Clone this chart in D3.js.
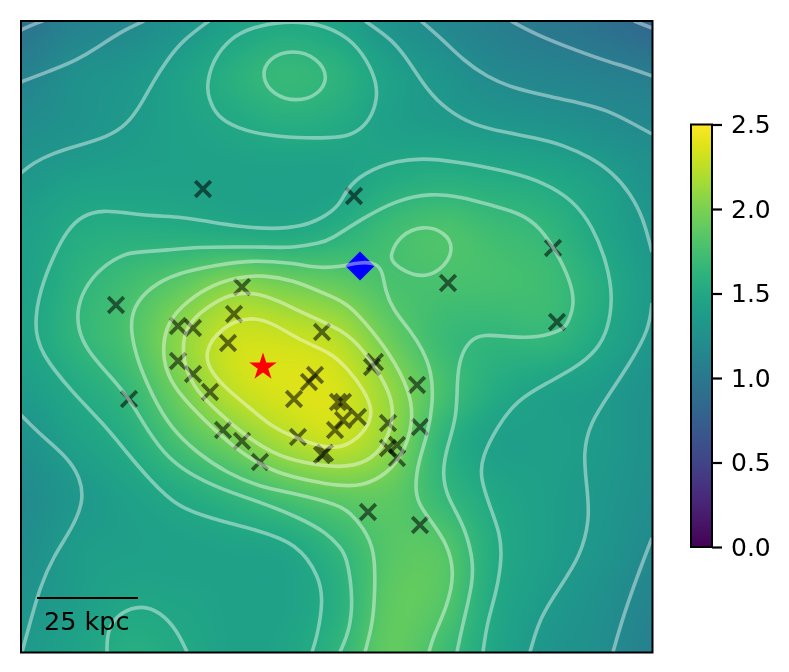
<!DOCTYPE html>
<html>
<head>
<meta charset="utf-8">
<script src="https://d3js.org/d3.v7.min.js"></script>
<style>
  html, body { margin: 0; background: #fff; }
  #wrap { position: relative; width: 789px; height: 672px; overflow: hidden; }
  #map, #chart { position: absolute; left: 0; top: 0; }
  text { font-family: "DejaVu Sans", sans-serif; fill: #000; }
</style>
</head>
<body>
<div id="wrap">
  <canvas id="map" width="789" height="672"></canvas>
  <svg id="chart" width="789" height="672"></svg>
</div>
<script>
// map coordinates run 21..652.5 on both axes, y downwards
const gridX = [21, 74, 126, 179, 232, 284, 337, 390, 442, 495, 548, 600, 653];
const gridY = [21, 74, 126, 179, 232, 284, 337, 390, 442, 495, 548, 600, 653];
const density = [
  [0.95, 1.10, 1.17, 1.28, 1.42, 1.50, 1.44, 1.28, 1.17, 1.07, 0.99, 0.93, 0.82],
  [1.10, 1.25, 1.31, 1.42, 1.58, 1.68, 1.61, 1.42, 1.30, 1.18, 1.13, 1.09, 1.05],
  [1.22, 1.28, 1.35, 1.42, 1.49, 1.55, 1.52, 1.41, 1.37, 1.33, 1.29, 1.23, 1.18],
  [1.33, 1.40, 1.42, 1.42, 1.42, 1.41, 1.42, 1.53, 1.57, 1.54, 1.50, 1.41, 1.27],
  [1.40, 1.53, 1.56, 1.55, 1.52, 1.50, 1.58, 1.73, 1.80, 1.72, 1.65, 1.47, 1.32],
  [1.42, 1.60, 1.73, 1.87, 2.04, 1.97, 1.90, 1.78, 1.77, 1.76, 1.72, 1.56, 1.35],
  [1.44, 1.63, 1.78, 2.07, 2.30, 2.30, 2.22, 1.92, 1.70, 1.64, 1.66, 1.50, 1.33],
  [1.37, 1.51, 1.66, 1.96, 2.26, 2.36, 2.35, 2.09, 1.77, 1.54, 1.42, 1.37, 1.26],
  [1.27, 1.42, 1.54, 1.77, 1.97, 2.18, 2.28, 2.07, 1.63, 1.41, 1.40, 1.36, 1.25],
  [1.20, 1.32, 1.42, 1.52, 1.64, 1.78, 1.88, 1.88, 1.67, 1.49, 1.40, 1.33, 1.23],
  [1.23, 1.37, 1.40, 1.42, 1.44, 1.47, 1.64, 1.84, 1.84, 1.53, 1.40, 1.31, 1.19],
  [1.30, 1.38, 1.47, 1.46, 1.43, 1.43, 1.57, 1.88, 1.84, 1.50, 1.36, 1.25, 1.13],
  [1.35, 1.44, 1.56, 1.51, 1.43, 1.46, 1.63, 1.90, 1.73, 1.47, 1.30, 1.23, 1.08]
];

// contour traces
const cornerTopLeft = [[21,30],[32,25],[43,21]];
const lineTopLeft = [[21,82],[50,71],[77,60],[97,48],[120,32],[144,21]];
const lineUpperLeft = [[21,173],[33,163],[53,153],[80,145],[107,137],[127,125],[142,103],[153,82],[167,60],[183,40],[209,21]];
const lineTop1 = [[365,21],[393,40],[410,63],[427,90],[447,110],[473,125],[503,132],[537,138],[563,145],[590,157],[613,173],[630,193],[643,217],[652,252]];
const lineTop2 = [[421,21],[443,40],[463,60],[487,77],[513,88],[547,96],[580,103],[607,110],[630,122],[652,134]];
const lineTop3 = [[511,21],[537,35],[570,48],[603,60],[630,68],[652,76]];
const cornerTopRight = [[634,21],[652,28]];
const lineOuter = [[312,652],[317,637],[323,603],[320,577],[297,543],[257,530],[210,518],[177,507],[150,480],[127,453],[103,423],[73,393],[40,353],[34,325],[40,290],[53,257],[67,230],[83,215],[103,210],[127,213],[153,216],[183,217],[210,222],[243,227],[273,229],[300,227],[323,218],[340,205],[346,190],[363,173],[397,160],[430,158],[470,164],[510,172],[543,182],[573,200],[593,227],[607,263],[613,297],[608,330],[597,350],[577,367],[547,383],[517,400],[497,427],[482,457],[480,477],[490,507],[500,533],[502,557],[497,590],[487,623],[483,652]];
const lineMiddle = [[340,652],[350,630],[353,597],[347,557],[340,547],[327,533],[300,518],[263,503],[223,490],[187,473],[163,453],[143,423],[127,395],[107,373],[87,350],[78,330],[77,307],[87,283],[107,263],[127,253],[140,252],[167,250],[200,247],[233,247],[267,247],[293,248],[320,243],[330,240],[363,218],[397,200],[430,193],[463,197],[490,205],[520,213],[540,227],[557,253],[570,280],[575,303],[568,323],[563,330],[537,338],[510,337],[483,334],[470,340],[460,357],[457,380],[457,417],[447,447],[442,473],[447,497],[463,523],[473,557],[473,583],[463,623],[457,652]];
const lineInner = [[365,652],[373,623],[375,590],[375,550],[363,527],[350,513],[340,505],[293,493],[260,487],[227,473],[197,453],[170,427],[153,397],[138,363],[130,330],[133,307],[150,287],[177,273],[217,265],[250,260],[293,263],[317,268],[340,267],[360,262],[377,263],[383,273],[385,290],[393,310],[410,330],[423,350],[432,373],[433,403],[428,433],[418,463],[415,487],[418,503],[430,520],[447,543],[455,573],[447,607],[433,637],[429,652]];
const lineRight = [[652,303],[649,330],[630,363],[610,393],[590,423],[583,453],[587,487],[590,520],[580,557],[560,587],[540,617],[530,652]];
const cornerBottomRight = [[652,538],[637,577],[623,617],[613,652]];
const lineBottomLeft = [[21,415],[43,437],[67,457],[80,477],[84,500],[73,527],[53,557],[40,587],[30,623],[22,652]];
const lineBottom = [[107,652],[107,630],[120,612],[142,605],[160,612],[177,630],[187,652]];

const ringTopOuter = [[207,83],[213,60],[230,38],[253,27],[283,21],[320,23],[350,38],[367,60],[377,83],[377,103],[367,125],[350,136],[330,138],[297,138],[263,135],[237,128],[217,117],[208,97]];
const ringTopInner = [[261,77],[268,58],[293,49],[318,58],[329,78],[318,95],[297,102],[273,95]];
const ringIsland = [[390,255],[400,235],[423,225],[445,232],[454,248],[445,267],[425,278],[405,272],[392,262]];
const ringCore1 = [[165,327],[180,307],[207,287],[237,277],[263,275],[293,280],[323,293],[347,303],[363,320],[390,353],[411,393],[413,423],[404,453],[387,474],[363,486],[340,486],[310,481],[277,473],[250,459],[223,438],[197,413],[173,387],[162,360]];
const ringCore2 = [[186,325],[207,307],[230,294],[253,292],[277,300],[307,315],[343,330],[364,350],[388,387],[395,413],[386,444],[367,463],[340,468],[303,463],[273,454],[243,434],[217,411],[192,387],[181,353]];
const ringCore3 = [[221,327],[250,316],[273,323],[303,342],[330,352],[348,369],[364,390],[373,410],[368,428],[350,445],[330,449],[303,441],[273,428],[250,408],[229,391],[212,374],[203,353]];

const openLines = [cornerTopLeft, lineTopLeft, lineUpperLeft, lineTop1, lineTop2, lineTop3, cornerTopRight, lineOuter, lineMiddle, lineInner, lineRight, cornerBottomRight, lineBottomLeft, lineBottom];
const closedLines = [ringTopOuter, ringTopInner, ringIsland, ringCore1, ringCore2, ringCore3];

const galaxies = [[203,189],[354,196],[553,248],[448,283],[116,305],[557,322],[242,287],[234,314],[178,326],[193,328],[322,332],[228,343],[178,361],[193,374],[210,392],[129,399],[375,362],[372,367],[315,375],[309,382],[294,399],[417,385],[338,402],[343,402],[358,417],[343,420],[335,430],[388,423],[420,427],[223,430],[242,441],[298,437],[260,462],[322,455],[325,453],[397,445],[388,448],[397,458],[368,512],[420,525]];
const starPoint = [263, 367];
const diamondPoint = [360, 266];

const colorTicks = [0, 0.5, 1, 1.5, 2, 2.5];
const scaleBarKpc = 25;

const x = d3.scaleLinear().domain([21, 652.5]).range([21, 652.5]);
const y = d3.scaleLinear().domain([21, 652.5]).range([21, 652.5]);
const kpc = d3.scaleLinear().domain([0, 25]).range([0, 101]);

// smooth resampling of the grid for the image, like imshow with bicubic
function cubic(p0, p1, p2, p3, t) {
  return p1 + 0.5 * t * (p2 - p0 + t * (2 * p0 - 5 * p1 + 4 * p2 - p3 + t * (3 * (p1 - p2) + p3 - p0)));
}
const gridColumn = d3.scaleLinear().domain(gridX).range(d3.range(gridX.length)).clamp(true);
const gridRow = d3.scaleLinear().domain(gridY).range(d3.range(gridY.length)).clamp(true);
function sample(px, py) {
  const n = gridX.length - 1;
  const gx = Math.min(gridColumn(px), n - 1e-6);
  const gy = Math.min(gridRow(py), n - 1e-6);
  const i = Math.floor(gx), j = Math.floor(gy);
  const at = (r, c) => density[Math.min(Math.max(r, 0), n)][Math.min(Math.max(c, 0), n)];
  const row = r => cubic(at(r, i - 1), at(r, i), at(r, i + 1), at(r, i + 2), gx - i);
  return cubic(row(j - 1), row(j), row(j + 1), row(j + 2), gy - j);
}

// drawn with a margin so the blur does not fade at the frame
const pad = 30, mapW = 632 + 2 * pad, mapH = 632 + 2 * pad;
const off = document.createElement("canvas");
off.width = mapW; off.height = mapH;
const offCtx = off.getContext("2d");
const image = offCtx.createImageData(mapW, mapH);
const lut = d3.range(1024).map(i => d3.rgb(d3.interpolateViridis(i / 1023)));
for (let r = 0; r < mapH; r++) {
  for (let c = 0; c < mapW; c++) {
    const v = sample(21 - pad + c, 21 - pad + r);
    const k = lut[Math.max(0, Math.min(1023, Math.round(v / 2.5 * 1023)))];
    const o = (r * mapW + c) * 4;
    image.data[o] = k.r; image.data[o + 1] = k.g; image.data[o + 2] = k.b; image.data[o + 3] = 255;
  }
}
offCtx.putImageData(image, 0, 0);

const ctx = document.getElementById("map").getContext("2d");
ctx.save();
ctx.beginPath();
ctx.rect(21, 21, 631.5, 631.5);
ctx.clip();
ctx.filter = "blur(7px)";
ctx.drawImage(off, 21 - pad, 21 - pad);
ctx.restore();

const svg = d3.select("#chart");
svg.append("clipPath").attr("id", "frameClip").append("rect")
  .attr("x", x(21)).attr("y", y(21)).attr("width", x(652.5) - x(21)).attr("height", y(652.5) - y(21));

const plot = svg.append("g").attr("clip-path", "url(#frameClip)");

plot.selectAll(".galaxy")
  .data(galaxies)
  .join("path")
  .attr("class", "galaxy")
  .attr("d", d3.symbol(d3.symbolTimes, 160))
  .attr("transform", d => `translate(${x(d[0])},${y(d[1])})`)
  .attr("fill", "none")
  .attr("stroke", "#000")
  .attr("stroke-width", 3.8)
  .attr("stroke-opacity", 0.55);

plot.append("path")
  .attr("d", d3.symbol(d3.symbolSquare, 420))
  .attr("transform", `translate(${x(diamondPoint[0])},${y(diamondPoint[1])}) rotate(45)`)
  .attr("fill", "#0000ff");

const openPath = d3.line().x(d => x(d[0])).y(d => y(d[1])).curve(d3.curveBasis);
const closedPath = d3.line().x(d => x(d[0])).y(d => y(d[1])).curve(d3.curveBasisClosed);

plot.selectAll(".open")
  .data(openLines)
  .join("path")
  .attr("class", "open")
  .attr("d", openPath);
plot.selectAll(".closed")
  .data(closedLines)
  .join("path")
  .attr("class", "closed")
  .attr("d", closedPath);
plot.selectAll(".open,.closed")
  .attr("fill", "none")
  .attr("stroke", "#fff")
  .attr("stroke-width", 3.6)
  .attr("stroke-opacity", 0.42);

plot.append("path")
  .attr("d", d3.symbol(d3.symbolStar, 235))
  .attr("transform", `translate(${x(starPoint[0])},${y(starPoint[1])})`)
  .attr("fill", "#ff0000");

// scale bar
plot.append("line")
  .attr("x1", 37).attr("x2", 37 + kpc(scaleBarKpc))
  .attr("y1", 598).attr("y2", 598)
  .attr("stroke", "#000").attr("stroke-width", 2.2);
svg.append("text")
  .attr("x", 44).attr("y", 630)
  .attr("font-size", 25.5)
  .text(`${scaleBarKpc} kpc`);

svg.append("rect")
  .attr("x", x(21)).attr("y", y(21)).attr("width", x(652.5) - x(21)).attr("height", y(652.5) - y(21))
  .attr("fill", "none").attr("stroke", "#000").attr("stroke-width", 2);

// colour bar
const barLeft = 691, barRight = 712, barTop = 124.5, barBottom = 547;
const barScale = d3.scaleLinear().domain([0, 2.5]).range([barBottom, barTop]);
const grad = svg.append("linearGradient").attr("id", "viridisBar")
  .attr("x1", 0).attr("x2", 0).attr("y1", 1).attr("y2", 0);
grad.selectAll("stop")
  .data(d3.range(0, 1.0001, 0.05))
  .join("stop")
  .attr("offset", d => d)
  .attr("stop-color", d => d3.interpolateViridis(d));
svg.append("rect")
  .attr("x", barLeft).attr("y", barTop).attr("width", barRight - barLeft).attr("height", barBottom - barTop)
  .attr("fill", "url(#viridisBar)");

const barAxis = svg.append("g")
  .attr("transform", `translate(${barRight},0)`)
  .call(d3.axisRight(barScale).tickValues(colorTicks).tickFormat(d3.format(".1f")).tickSize(10).tickPadding(9));
barAxis.select(".domain").remove();
barAxis.selectAll("line").attr("stroke", "#000").attr("stroke-width", 2.2);
barAxis.selectAll("text")
  .attr("font-size", 25)
  .attr("font-family", "DejaVu Sans")
  .attr("fill", "#000");

svg.append("rect")
  .attr("x", barLeft).attr("y", barTop).attr("width", barRight - barLeft).attr("height", barBottom - barTop)
  .attr("fill", "none").attr("stroke", "#000").attr("stroke-width", 2);
</script>
</body>
</html>
